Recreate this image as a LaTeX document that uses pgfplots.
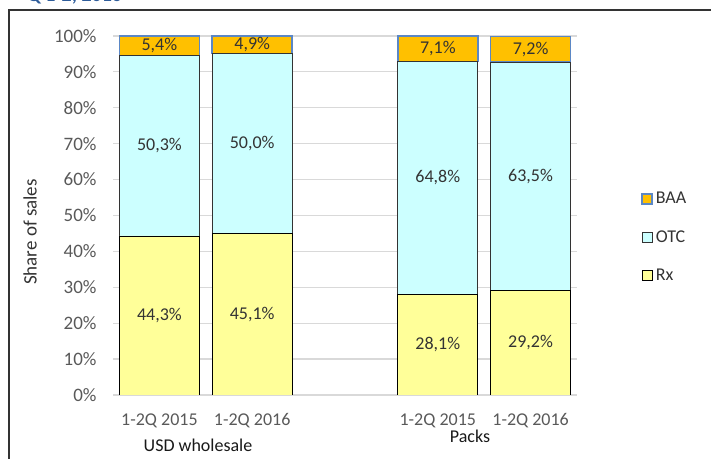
\documentclass[border=0pt]{standalone}
\usepackage{pgfplots}
\pgfplotsset{compat=1.18}
\usepackage{fontspec}
\setmainfont{Carlito}
\definecolor{baa}{HTML}{FFC000}
\definecolor{baaedge}{HTML}{5B87C5}
\definecolor{otc}{HTML}{CCFFFF}
\definecolor{rx}{HTML}{FFFF99}
\definecolor{gridc}{HTML}{D9D9D9}
\definecolor{tickc}{HTML}{595959}
\definecolor{valc}{HTML}{333333}
\definecolor{titlec}{HTML}{2E5C9A}
\begin{document}
\begin{tikzpicture}
\useasboundingbox (0,0) rectangle (711bp,459bp);
\begin{scope}
\clip (0,0) rectangle (711bp,459bp);
\node[anchor=base west, inner sep=0pt, text=titlec, font=\fontsize{20bp}{24bp}\selectfont\bfseries] at (27bp,457bp) {Q 1-2, 2016};
\end{scope}
\draw[line width=1.5bp, color=black!80] (9bp,-2bp) -- (9bp,449bp) -- (715bp,449bp);
\begin{axis}[
  at={(113bp,64bp)}, anchor=south west,
  scale only axis, width=464bp, height=359bp,
  ybar stacked, bar width=80bp,
  xmin=-0.5, xmax=4.5, ymin=0, ymax=100,
  xtick={0,1,3,4},
  xticklabels={1-2Q 2015,1-2Q 2016,1-2Q 2015,1-2Q 2016},
  ytick={0,10,...,100},
  yticklabel={\pgfmathprintnumber{\tick}\%},
  /pgf/number format/assume math mode=true,
  font=\fontsize{18bp}{21bp}\selectfont,
  ticklabel style={text=tickc},
  yticklabel style={xshift=-13bp, font=\fontsize{19bp}{22bp}\selectfont},
  xticklabel style={yshift=-15bp},
  major tick length=0pt,
  ymajorgrids, grid style={gridc, line width=1.2bp},
  axis x line*=bottom, axis y line*=left,
  x axis line style={gridc, line width=1.2bp, -},
  y axis line style={draw=none},
  legend style={draw=none, fill=none, at={(1.138,0.44)}, anchor=west,
    font=\fontsize{18bp}{21bp}\selectfont, text=valc,
    row sep=21bp, inner sep=0pt,
    nodes={inner xsep=3bp}},
  legend cell align=left,
  reverse legend,
  legend image code/.code={\draw[#1] (0bp,-5bp) rectangle (10bp,5bp);},
]
\addplot[fill=rx, draw=black, line width=0.8bp] coordinates {(0,44.3) (1,45.1) (3,28.1) (4,29.2)};
\addplot[fill=otc, draw=black!80, line width=0.8bp] coordinates {(0,50.3) (1,50.0) (3,64.8) (4,63.5)};
\addplot[fill=baa, draw=baaedge, line width=1.6bp] coordinates {(0,5.4) (1,4.9) (3,7.1) (4,7.2)};
\legend{Rx,OTC,BAA}
\end{axis}
\begin{axis}[
  at={(113bp,64bp)}, anchor=south west,
  scale only axis, width=464bp, height=359bp,
  xmin=-0.5, xmax=4.5, ymin=0, ymax=100,
  hide axis,
  font=\fontsize{18bp}{21bp}\selectfont,
]
\addplot[draw=none, mark=none, only marks,
  nodes near coords={\pgfmathprintnumber[fixed,fixed zerofill,precision=1,use comma,assume math mode=true]{\pgfplotspointmeta}\%},
  nodes near coords align=center,
  every node near coord/.append style={anchor=center, text=valc, font=\fontsize{18bp}{21bp}\selectfont},
  point meta=explicit]
  table[meta=v] {
x y v
0 22.15 44.3
1 22.55 45.1
3 14.05 28.1
4 14.6 29.2
0 69.45 50.3
1 70.1 50.0
3 60.5 64.8
4 60.95 63.5
0 97.3 5.4
1 97.55 4.9
3 96.45 7.1
4 96.35 7.2
};
\end{axis}
\node[rotate=90, font=\fontsize{19bp}{22bp}\selectfont, text=valc] at (30bp,227bp) {Share of sales};
\node[font=\fontsize{18bp}{21bp}\selectfont, text=black!90] at (198bp,14bp) {USD wholesale};
\node[font=\fontsize{18bp}{21bp}\selectfont, text=black!90] at (470bp,23bp) {Packs};
\end{tikzpicture}
\end{document}
